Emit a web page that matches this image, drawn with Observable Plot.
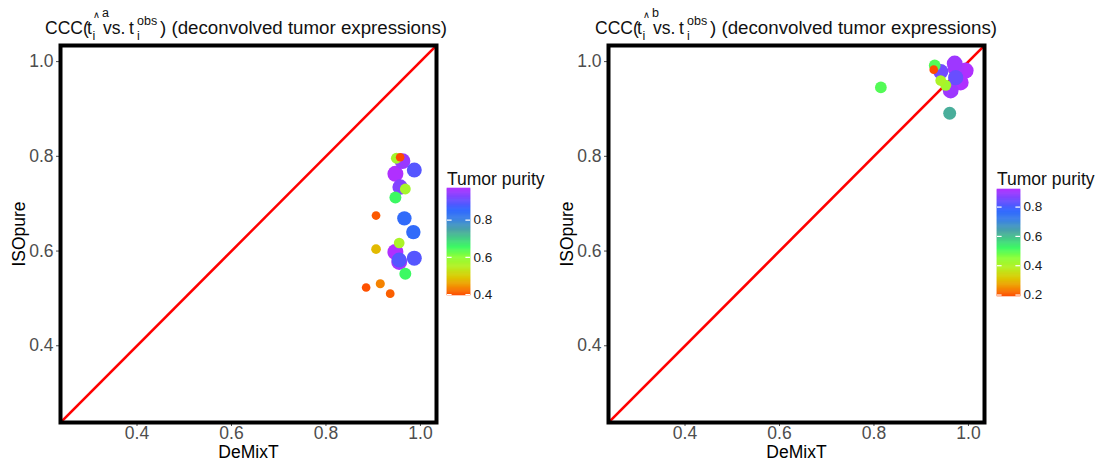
<!DOCTYPE html>
<html>
<head>
<meta charset="utf-8">
<script src="https://cdn.jsdelivr.net/npm/d3@7"></script>
<script src="https://cdn.jsdelivr.net/npm/@observablehq/plot@0.6"></script>
<style>
  html, body { margin: 0; padding: 0; background: #fff; }
  #wrap { position: relative; width: 1104px; height: 462px; background: #fff; overflow: hidden;
          font-family: "Liberation Sans", Arial, Helvetica, sans-serif; }
  .abs { position: absolute; }
  svg { overflow: visible; }
</style>
</head>
<body>
<div id="wrap"></div>
<script>
// ---------------- data ----------------
const leftDeMixT  = [0.957, 0.949, 0.962, 0.987, 0.947, 0.968, 0.957, 0.947, 0.906, 0.966, 0.985, 0.955, 0.906, 0.947, 0.955, 0.955, 0.987, 0.968, 0.915, 0.885, 0.936];
const leftISOpure = [0.798, 0.796, 0.790, 0.771, 0.763, 0.731, 0.735, 0.713, 0.675, 0.669, 0.640, 0.617, 0.604, 0.598, 0.577, 0.581, 0.585, 0.552, 0.531, 0.523, 0.510];
const leftPurity  = [0.395, 0.57, 0.95, 0.89, 0.97, 0.57, 0.93, 0.655, 0.405, 0.845, 0.845, 0.56, 0.48, 0.97, 0.96, 0.89, 0.89, 0.655, 0.435, 0.40, 0.41];

const rightDeMixT  = [0.9265, 0.9286, 0.9413, 0.9709, 0.973, 0.9856, 0.994, 0.973, 0.9835, 0.9413, 0.952, 0.9624, 0.8146, 0.9603];
const rightISOpure = [0.983, 0.992, 0.979, 0.996, 0.985, 0.977, 0.981, 0.966, 0.956, 0.960, 0.950, 0.939, 0.9455, 0.891];
const rightPurity  = [0.19, 0.50, 0.85, 0.90, 0.91, 0.92, 0.92, 0.84, 0.92, 0.40, 0.42, 0.90, 0.50, 0.62];

const axisTicks = [0.4, 0.6, 0.8, 1.0];
const axisDomain = [0.238, 1.034];
const leftPurityRange = [0.395, 0.97];
const rightPurityRange = [0.19, 0.92];
const leftLegendTicks = [0.4, 0.6, 0.8];
const rightLegendTicks = [0.2, 0.4, 0.6, 0.8];
const xLabel = "DeMixT";
const yLabel = "ISOpure";
const legendTitle = "Tumor purity";

// palette (relative position -> colour)
const paletteStops  = [0, 0.09, 0.17, 0.27, 0.36, 0.45, 0.6, 0.72, 0.8, 1];
const paletteColors = ["#FF4A00", "#F29400", "#DCC800", "#B4F024", "#8CFF38", "#3CFA62", "#4AA8A0", "#3A7FE8", "#2E66FF", "#B030FF"];

const FONT = '"Liberation Sans", Arial, Helvetica, sans-serif';
const wrap = document.getElementById("wrap");

function colorScale([lo, hi]) {
  return {type: "linear", domain: paletteStops.map(t => lo + t * (hi - lo)), range: paletteColors, interpolate: "rgb"};
}

function panel(xs, ys, ps, pr) {
  const data = xs.map((x, i) => ({x, y: ys[i], p: ps[i]}));
  return Plot.plot({
    width: 440, height: 462,
    marginLeft: 60, marginRight: 4, marginTop: 45, marginBottom: 40,
    style: {fontFamily: FONT, background: "transparent"},
    x: {domain: axisDomain},
    y: {domain: axisDomain},
    color: colorScale(pr),
    r: {type: "linear", domain: pr, range: [4.3, 8]},
    marks: [
      Plot.axisX({ticks: axisTicks, tickFormat: ".1f", tickSize: 4, tickPadding: 0, fontSize: 17.5, color: "#4D4D4D", label: null}),
      Plot.axisY({ticks: axisTicks, tickFormat: ".1f", tickSize: 4, tickPadding: 3, fontSize: 17.5, color: "#4D4D4D", label: null}),
      Plot.link([axisDomain], {x1: d => d[0], y1: d => d[0], x2: d => d[1], y2: d => d[1], stroke: "#FF0000", strokeWidth: 2.6, clip: true}),
      Plot.dot(data, {x: "x", y: "y", r: "p", fill: "p", stroke: null}),
      Plot.frame({stroke: "black", strokeWidth: 4}),
      Plot.text([xLabel], {frameAnchor: "bottom", dy: 30, lineAnchor: "middle", fontSize: 17.5, fill: "black"}),
      Plot.text([yLabel], {frameAnchor: "left", dx: -41, rotate: -90, lineAnchor: "middle", textAnchor: "middle", fontSize: 17.5, fill: "black"})
    ]
  });
}

function legend(pr, ticks) {
  const [lo, hi] = pr;
  const n = 120;
  const ramp = d3.range(n).map(i => [lo + (hi - lo) * i / n, lo + (hi - lo) * (i + 1) / n]);
  return Plot.plot({
    width: 72, height: 107 + 16,
    marginTop: 8, marginBottom: 8, marginLeft: 0, marginRight: 49,
    style: {fontFamily: FONT, background: "transparent"},
    x: {domain: [0, 1], axis: null},
    y: {domain: pr, axis: null},
    color: colorScale(pr),
    marks: [
      Plot.rect(ramp, {x1: 0, x2: 1, y1: d => d[0], y2: d => d[1], fill: d => (d[0] + d[1]) / 2, stroke: d => (d[0] + d[1]) / 2, strokeWidth: 0.6}),
      Plot.ruleY(ticks, {x1: 0, x2: 0.2, stroke: "white", strokeWidth: 1.2}),
      Plot.ruleY(ticks, {x1: 0.8, x2: 1, stroke: "white", strokeWidth: 1.2}),
      Plot.axisY({anchor: "right", ticks, tickFormat: ".1f", tickSize: 0, tickPadding: 3, fontSize: 13.5, color: "#1A1A1A", label: null})
    ]
  });
}

function place(el, left, top) {
  el.classList.add("abs");
  el.style.left = left + "px";
  el.style.top = top + "px";
  wrap.appendChild(el);
}

place(panel(leftDeMixT, leftISOpure, leftPurity, leftPurityRange), 0, 0);
place(panel(rightDeMixT, rightISOpure, rightPurity, rightPurityRange), 548, 0);
place(legend(leftPurityRange, leftLegendTicks), 447, 180);
place(legend(rightPurityRange, rightLegendTicks), 997, 181);

// ---------------- titles (real text) ----------------
const NS = "http://www.w3.org/2000/svg";
const ov = document.createElementNS(NS, "svg");
ov.setAttribute("width", 1104); ov.setAttribute("height", 462);
ov.style.position = "absolute"; ov.style.left = "0"; ov.style.top = "0"; ov.style.pointerEvents = "none";
ov.style.fontFamily = FONT;
wrap.appendChild(ov);

function t(x, y, str, size, opts = {}) {
  const e = document.createElementNS(NS, "text");
  e.setAttribute("x", x); e.setAttribute("y", y);
  e.setAttribute("font-size", size);
  e.setAttribute("fill", opts.fill || "#111");
  if (opts.len) { e.setAttribute("textLength", opts.len); e.setAttribute("lengthAdjust", "spacingAndGlyphs"); }
  if (opts.family) e.setAttribute("font-family", opts.family);
  e.textContent = str;
  ov.appendChild(e);
}

function title(ox, supLetter) {
  const y = 34;
  t(ox + 45, y, "CCC(", 17.5);
  t(ox + 87, y, "t", 17.5);
  t(ox + 93, y - 16, "\u2227", 9.5, {family: '"DejaVu Sans", sans-serif'});
  t(ox + 102, y - 17, supLetter, 12.5);
  t(ox + 92.5, y + 6, "i", 12.5);
  t(ox + 103, y, "vs.", 17.5);
  t(ox + 129, y, "t", 17.5);
  t(ox + 137, y - 9, "obs", 12.5);
  t(ox + 137, y + 6, "i", 12.5);
  t(ox + 160, y, ") (deconvolved tumor expressions)", 17.5, {len: 287});
}
title(0, "a");
title(550, "b");

t(447, 185, legendTitle, 17.5);
t(997, 185, legendTitle, 17.5);
</script>
</body>
</html>
